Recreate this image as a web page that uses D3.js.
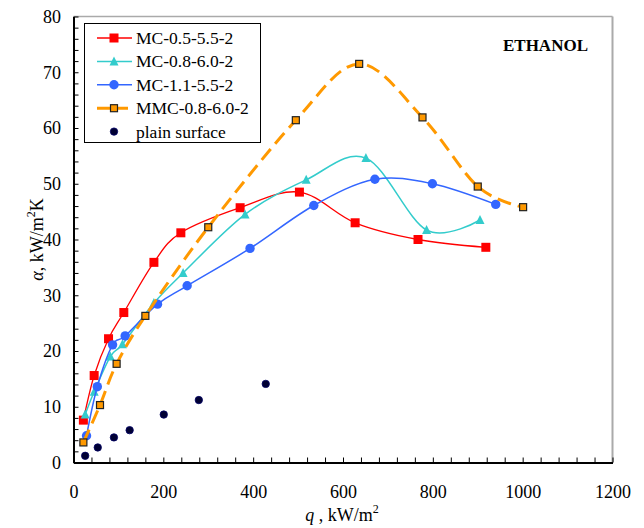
<!DOCTYPE html>
<html>
<head>
<meta charset="utf-8">
<script src="https://cdn.jsdelivr.net/npm/d3@7"></script>
<style>
body { margin: 0; background: #fff; }
svg, svg text { font-family: "Liberation Serif", "Times New Roman", "DejaVu Serif", serif; fill: #000; }
</style>
</head>
<body>
<div id="chart"></div>
<script>
// values
var mc05_q = [22, 46, 78, 112, 179, 239, 371, 503, 627, 767, 918]
var mc05_a = [7.6, 15.6, 22.2, 26.9, 35.9, 41.2, 45.7, 48.5, 43.0, 40.0, 38.6]
var mc08_q = [26, 46, 82, 109, 179, 244, 382, 518, 651, 786, 905]
var mc08_a = [8.6, 12.7, 19.0, 21.2, 28.6, 34.0, 44.5, 50.7, 54.6, 41.7, 43.5]
var mc11_q = [29, 53, 87, 115, 187, 253, 393, 535, 671, 799, 940]
var mc11_a = [4.8, 13.6, 21.1, 22.7, 28.4, 31.7, 38.4, 46.1, 50.8, 50.0, 46.3]
var mmc_q = [22, 59, 96, 160, 300, 495, 636, 777, 900, 1001]
var mmc_a = [3.6, 10.3, 17.7, 26.3, 42.2, 61.4, 71.5, 61.9, 49.5, 45.8]
var plain_q = [26, 54, 90, 125, 201, 279, 428]
var plain_a = [1.2, 2.7, 4.5, 5.8, 8.6, 11.2, 14.1]

var seriesNames = ["MC-0.5-5.5-2", "MC-0.8-6.0-2", "MC-1.1-5.5-2", "MMC-0.8-6.0-2", "plain surface"]
var xTicks = d3.range(0, 1201, 40)
var yTicks = d3.range(0, 81, 2)

var width = 644, height = 528
var serif = "'Liberation Serif', 'Times New Roman', 'DejaVu Serif', serif"

var series = [
    {name: seriesNames[0], q: mc05_q, a: mc05_a, color: "#ff0000", marker: "square", size: 9, lw: 1.3},
    {name: seriesNames[1], q: mc08_q, a: mc08_a, color: "#33cccc", marker: "triangle", size: 9, lw: 1.5},
    {name: seriesNames[2], q: mc11_q, a: mc11_a, color: "#3366ff", marker: "circle", size: 9.4, lw: 1.5},
    {name: seriesNames[3], q: mmc_q, a: mmc_a, color: "#ff9900", marker: "osquare", size: 7, lw: 3, dash: "14,7"},
    {name: seriesNames[4], q: plain_q, a: plain_a, color: "#000033", marker: "dot", size: 7.4, lw: 0}
]

var x = d3.scaleLinear().domain([0, 1200]).range([73.5, 612.5])
var y = d3.scaleLinear().domain([0, 80]).range([462.5, 16.5])

var svg = d3.select("#chart")
    .append("svg")
    .attr("width", width)
    .attr("height", height)
    .attr("font-family", serif)

// top and right frame
svg.append("line")
    .attr("x1", x(0)).attr("x2", x(1200))
    .attr("y1", y(80)).attr("y2", y(80))
    .attr("stroke", "#aaaaaa").attr("stroke-width", 1.5)
svg.append("line")
    .attr("x1", x(1200)).attr("x2", x(1200))
    .attr("y1", y(80)).attr("y2", y(0))
    .attr("stroke", "#aaaaaa").attr("stroke-width", 2)

svg.append("g")
    .attr("transform", "translate(0," + y(0) + ")")
    .call(d3.axisBottom(x)
        .tickValues(xTicks)
        .tickSize(-5)
        .tickSizeOuter(0)
        .tickPadding(23)
        .tickFormat((d) => {return d % 200 === 0 ? d : ""}))

svg.append("g")
    .attr("transform", "translate(" + x(0) + ",0)")
    .call(d3.axisLeft(y)
        .tickValues(yTicks)
        .tickSize(-5)
        .tickSizeOuter(0)
        .tickPadding(12.5)
        .tickFormat((d) => {return d % 10 === 0 ? d : ""}))

svg.selectAll("g").attr("font-family", serif)
svg.selectAll(".domain").attr("stroke", "#000").attr("stroke-width", 2)
svg.selectAll(".tick line").attr("stroke", "#000").attr("stroke-width", 1)
svg.selectAll(".tick text")
    .attr("font-size", 18)
    .attr("fill", "#000")

function drawMarker(g, s, cx, cy) {
    var h = s.size / 2
    if (s.marker === "square") {
        g.append("rect").attr("x", cx - h).attr("y", cy - h)
            .attr("width", s.size).attr("height", s.size)
            .attr("fill", s.color)
    } else if (s.marker === "osquare") {
        g.append("rect").attr("x", cx - h).attr("y", cy - h)
            .attr("width", s.size).attr("height", s.size)
            .attr("fill", s.color).attr("stroke", "#222").attr("stroke-width", 1.2)
    } else if (s.marker === "triangle") {
        g.append("path")
            .attr("d", "M" + cx + "," + (cy - h - 0.5) + "L" + (cx + h) + "," + (cy + h - 0.5) + "L" + (cx - h) + "," + (cy + h - 0.5) + "Z")
            .attr("fill", s.color)
    } else {
        g.append("circle").attr("cx", cx).attr("cy", cy).attr("r", h)
            .attr("fill", s.color)
            .attr("stroke", s.marker === "dot" ? "#000066" : "none")
            .attr("stroke-width", 0.8)
    }
}

var line = d3.line()
    .x((d) => {return x(d[0])})
    .y((d) => {return y(d[1])})
    .curve(d3.curveCardinal.tension(0))

var plot = svg.append("g")
series.forEach((s) => {
    var pts = s.q.map((q, i) => {return [q, s.a[i]]})
    var g = plot.append("g")
    if (s.lw > 0) {
        g.append("path")
            .attr("d", line(pts))
            .attr("fill", "none")
            .attr("stroke", s.color)
            .attr("stroke-width", s.lw)
            .attr("stroke-dasharray", s.dash || null)
    }
    pts.forEach((p) => {drawMarker(g, s, x(p[0]), y(p[1]))})
})

// legend
var legend = svg.append("g")
legend.append("rect")
    .attr("x", 84.5).attr("y", 23.5)
    .attr("width", 176).attr("height", 119)
    .attr("fill", "#fff").attr("stroke", "#000").attr("stroke-width", 1)

series.forEach((s, i) => {
    var ly = 38 + i * 23.4
    var g = legend.append("g")
    if (s.lw > 0) {
        g.append("line")
            .attr("x1", 97).attr("x2", 132)
            .attr("y1", ly).attr("y2", ly)
            .attr("stroke", s.color)
            .attr("stroke-width", s.lw)
            .attr("stroke-dasharray", s.dash ? "13,5" : null)
    }
    drawMarker(g, s, 114, ly)
    g.append("text")
        .attr("x", 136).attr("y", ly + 6)
        .attr("font-size", 17.5)
        .text(s.name)
})

svg.append("text")
    .attr("x", 588).attr("y", 51)
    .attr("text-anchor", "end")
    .attr("font-size", 17)
    .attr("font-weight", "bold")
    .text("ETHANOL")

// axis titles
var xt = svg.append("text")
    .attr("x", 342).attr("y", 521)
    .attr("text-anchor", "middle")
    .attr("font-size", 18)
xt.append("tspan").attr("font-style", "italic").text("q")
xt.append("tspan").text(" , kW/m")
xt.append("tspan").attr("dy", -8).attr("font-size", 12).text("2")

var yt = svg.append("text")
    .attr("transform", "translate(43," + ((y(0) + y(80)) / 2) + ") rotate(-90)")
    .attr("text-anchor", "middle")
    .attr("font-size", 18)
yt.append("tspan").attr("font-style", "italic").text("α")
yt.append("tspan").text(", kW/m")
yt.append("tspan").attr("dy", -8).attr("font-size", 12).text("2")
yt.append("tspan").attr("dy", 8).text("K")
</script>
</body>
</html>
